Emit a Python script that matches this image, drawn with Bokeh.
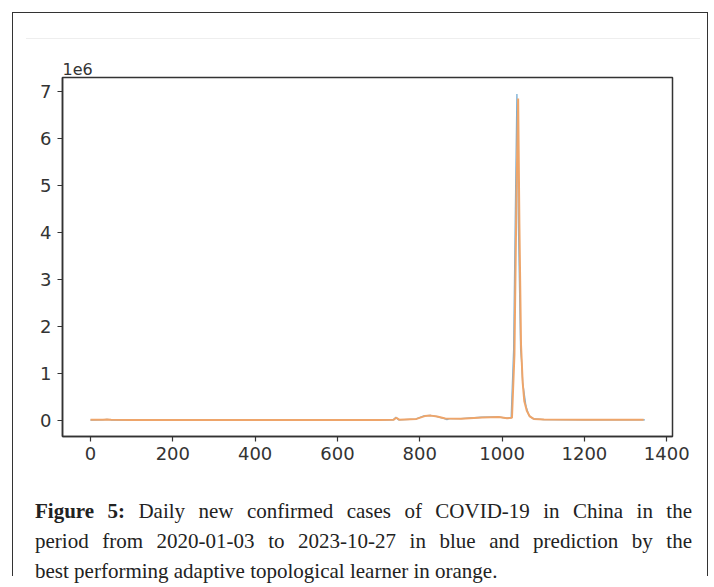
from bokeh.plotting import figure
from bokeh.layouts import column
from bokeh.models import Div, FixedTicker, CustomJSTickFormatter, Range1d
from bokeh.embed import file_html
from bokeh.resources import INLINE

# Day index since 2020-01-03 and daily new confirmed cases
actual_day = [0, 30, 40, 50, 100, 300, 500, 700, 735, 742, 748, 790, 810, 825, 840, 860,
              866, 872, 900, 950, 990, 1010, 1022, 1028, 1033, 1036, 1040, 1045, 1047,
              1050, 1058, 1065, 1075, 1100, 1200, 1347]
actual_cases = [0, 3000, 15000, 2000, 100, 100, 100, 200, 3000, 60000, 5000, 20000, 90000,
                100000, 80000, 30000, 10000, 30000, 30000, 60000, 70000, 40000, 50000,
                1500000, 5000000, 6950000, 4000000, 1500000, 1300000, 800000, 300000,
                100000, 30000, 10000, 5000, 3000]

pred_day = [0, 30, 40, 50, 100, 300, 500, 700, 736, 743, 750, 792, 812, 827, 842, 862,
            900, 952, 992, 1012, 1024, 1030, 1035, 1039, 1042, 1046, 1050, 1054, 1060,
            1067, 1077, 1102, 1200, 1344]
pred_cases = [5000, 6000, 12000, 5000, 3000, 3000, 3000, 3000, 5000, 50000, 8000, 25000,
              85000, 95000, 75000, 35000, 30000, 55000, 65000, 40000, 50000, 1400000,
              4800000, 6850000, 4200000, 1600000, 800000, 400000, 200000, 80000, 25000,
              10000, 6000, 5000]

x_ticks = [0, 200, 400, 600, 800, 1000, 1200, 1400]
y_ticks = [0, 1e6, 2e6, 3e6, 4e6, 5e6, 6e6, 7e6]

caption_lines = [
    ("Figure 5:", " Daily new confirmed cases of COVID-19 in China in the"),
    ("", "period from 2020-01-03 to 2023-10-27 in blue and prediction by the"),
    ("", "best performing adaptive topological learner in orange."),
]

p = figure(width=694, height=438, output_backend="svg", toolbar_location=None,
           x_range=Range1d(-68, 1414), y_range=Range1d(-350000, 7300000),
           min_border_left=49, min_border_right=35, min_border_top=38, min_border_bottom=41,
           title="1e6")
p.title.text_font = "DejaVu Sans"
p.title.text_font_size = "16px"
p.title.text_font_style = "normal"
p.title.text_color = "#333333"
p.title.align = "left"
p.title.standoff = 5

p.line(actual_day, actual_cases, line_color="#1f77b4", line_width=1.3, line_alpha=0.6)
p.line(pred_day, pred_cases, line_color="#eea56a", line_width=2)

p.xgrid.visible = False
p.ygrid.visible = False
p.outline_line_color = "#333333"
p.outline_line_width = 1.5
p.background_fill_color = "white"
p.border_fill_color = "white"

for ax in (p.xaxis[0], p.yaxis[0]):
    ax.axis_line_color = "#333333"
    ax.axis_line_width = 1.5
    ax.major_tick_line_color = "#333333"
    ax.major_tick_line_width = 1.2
    ax.major_tick_in = 0
    ax.major_tick_out = 5
    ax.minor_tick_line_color = None
    ax.major_label_text_font = "DejaVu Sans"
    ax.major_label_text_font_size = "18px"
    ax.major_label_text_color = "#333333"

p.xaxis[0].ticker = FixedTicker(ticks=x_ticks)
p.yaxis[0].ticker = FixedTicker(ticks=y_ticks)
p.yaxis[0].formatter = CustomJSTickFormatter(code="return (tick/1e6).toFixed(0);")
p.xaxis[0].major_label_standoff = 5
p.yaxis[0].major_label_standoff = 6

top_rule = Div(text="", width=674, height=26, margin=(0, 0, 0, 13),
               styles={"border-bottom": "1px solid #eeeeee"})

html_lines = []
for i, (bold, rest) in enumerate(caption_lines):
    last = "left" if i == len(caption_lines) - 1 else "justify"
    b = f"<b>{bold}</b>" if bold else ""
    html_lines.append(
        f"<div style=\"text-align:justify; text-align-last:{last}; white-space:nowrap;\">{b}{rest}</div>")
caption = Div(
    text=("<div style=\"font-family:'Liberation Serif'; font-size:21px; line-height:30px; "
          "color:#222; width:657px;\">" + "".join(html_lines) + "</div>"),
    width=660, height=80, margin=(19, 0, 0, 22))

layout = column(top_rule, p, caption, margin=(12, 0, 0, 12),
                styles={"border": "1.5px solid #333", "border-bottom": "none"})

open("out.html", "w").write(file_html(layout, INLINE))
